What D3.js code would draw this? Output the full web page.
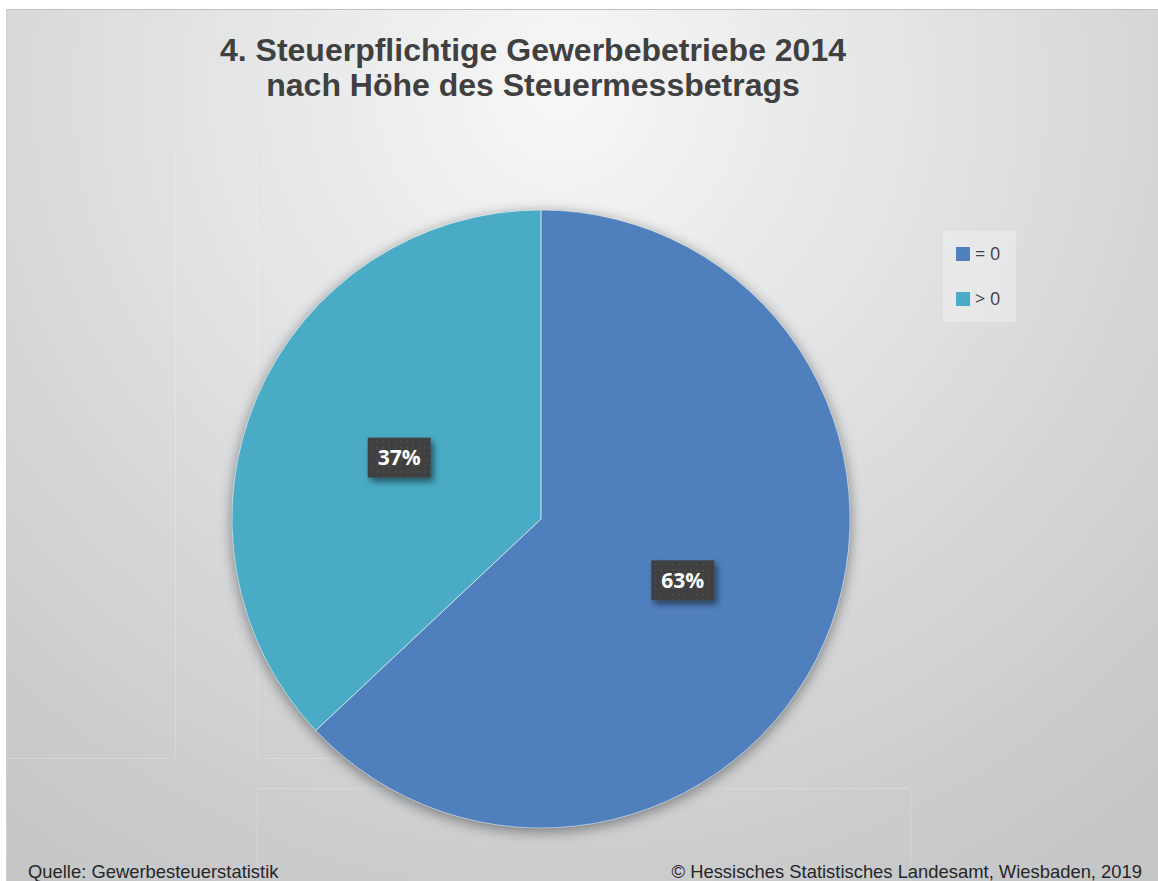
<!DOCTYPE html>
<html><head><meta charset="utf-8">
<script src="https://cdn.jsdelivr.net/npm/d3@7"></script>
<style>
html,body{margin:0;padding:0;background:#fff;}
svg{display:block;}
</style></head>
<body>
<svg id="chart" width="1158" height="881"></svg>
<script>
const categories = ["= 0", "> 0"];
const values = [63, 37];
const colors = ["#4f80bd", "#4aabc5"];
const titleLines = ["4. Steuerpflichtige Gewerbebetriebe 2014", "nach Höhe des Steuermessbetrags"];
const sourceText = "Quelle: Gewerbesteuerstatistik";
const copyrightText = "© Hessisches Statistisches Landesamt, Wiesbaden, 2019";

const W = 1158, H = 881;
const svg = d3.select("#chart");
const defs = svg.append("defs");

// background gradient
const rg = defs.append("radialGradient").attr("id", "bg")
  .attr("gradientUnits", "userSpaceOnUse")
  .attr("cx", 560).attr("cy", 90).attr("r", 950);
rg.append("stop").attr("offset", "0").attr("stop-color", "#f7f7f7");
rg.append("stop").attr("offset", "0.35").attr("stop-color", "#e4e5e6");
rg.append("stop").attr("offset", "0.85").attr("stop-color", "#cacbcd");
rg.append("stop").attr("offset", "1").attr("stop-color", "#c5c6c8");

// pie shadow
const sh = defs.append("filter").attr("id", "pieShadow")
  .attr("x", "-20%").attr("y", "-20%").attr("width", "140%").attr("height", "140%");
sh.append("feGaussianBlur").attr("in", "SourceAlpha").attr("stdDeviation", 7).attr("result", "b");
sh.append("feOffset").attr("in", "b").attr("dx", 0).attr("dy", 3).attr("result", "o");
sh.append("feComponentTransfer").attr("in", "o").attr("result", "s")
  .append("feFuncA").attr("type", "linear").attr("slope", 0.45);
const m1 = sh.append("feMerge");
m1.append("feMergeNode").attr("in", "s");
m1.append("feMergeNode").attr("in", "SourceGraphic");

// label shadow
const ls = defs.append("filter").attr("id", "lblShadow")
  .attr("x", "-30%").attr("y", "-30%").attr("width", "170%").attr("height", "180%");
ls.append("feGaussianBlur").attr("in", "SourceAlpha").attr("stdDeviation", 3).attr("result", "b");
ls.append("feOffset").attr("in", "b").attr("dx", 3).attr("dy", 4).attr("result", "o");
ls.append("feComponentTransfer").attr("in", "o").attr("result", "s")
  .append("feFuncA").attr("type", "linear").attr("slope", 0.5);
const m2 = ls.append("feMerge");
m2.append("feMergeNode").attr("in", "s");
m2.append("feMergeNode").attr("in", "SourceGraphic");

// dot pattern for labels
const pat = defs.append("pattern").attr("id", "dots")
  .attr("patternUnits", "userSpaceOnUse").attr("width", 6).attr("height", 6);
pat.append("rect").attr("width", 6).attr("height", 6).attr("fill", "#3f3f3f");
pat.append("rect").attr("x", 1).attr("y", 1).attr("width", 2).attr("height", 2).attr("fill", "#4c4c4c");

// page
svg.append("rect").attr("x", 0).attr("y", 0).attr("width", W).attr("height", H).attr("fill", "#fff");
svg.append("rect").attr("x", 6).attr("y", 9).attr("width", W - 6).attr("height", H - 9).attr("fill", "url(#bg)");
svg.append("line").attr("x1", 6).attr("x2", W).attr("y1", 9.5).attr("y2", 9.5).attr("stroke", "#bfbfbf").attr("stroke-width", 1);
svg.append("line").attr("x1", 6.5).attr("x2", 6.5).attr("y1", 9).attr("y2", H).attr("stroke", "#d0d0d0").attr("stroke-width", 1);

// faint background pattern lines
const faint = svg.append("g").attr("stroke", "#ffffff").attr("stroke-opacity", 0.22).attr("stroke-width", 1).attr("fill", "none");
[[175.5,150,175.5,758],[257.5,150,257.5,758],[8,758.5,175,758.5],[257,758.5,420,758.5],
 [257,788.5,420,788.5],[257.5,788,257.5,881],[910.5,790,910.5,881],[660,788.5,910,788.5]]
 .forEach(l => faint.append("line").attr("x1", l[0]).attr("y1", l[1]).attr("x2", l[2]).attr("y2", l[3]));

// title
const title = svg.append("text").attr("text-anchor", "middle")
  .attr("font-family", "Liberation Sans, Arial, sans-serif").attr("font-weight", "bold")
  .attr("font-size", 32).attr("fill", "#404040");
titleLines.forEach((t, i) => title.append("tspan").attr("x", 533).attr("y", 61 + i * 35).text(t));

// pie
const cx = 541, cy = 519, R = 309;
const pie = d3.pie().sort(null).value(d => d)(values);
const arc = d3.arc().innerRadius(0).outerRadius(R);
const g = svg.append("g").attr("transform", `translate(${cx},${cy})`);
g.append("g").attr("filter", "url(#pieShadow)")
  .selectAll("path").data(pie).join("path")
  .attr("d", arc).attr("fill", (d, i) => colors[i]);
g.selectAll("path.sep").data(pie).join("path").attr("class", "sep")
  .attr("d", arc).attr("fill", "none").attr("stroke", "#ffffff").attr("stroke-opacity", 0.45).attr("stroke-width", 1);

// labels
const labelArc = d3.arc().innerRadius(R * 0.5).outerRadius(R * 0.5);
const lg = g.selectAll("g.lbl").data(pie).join("g").attr("class", "lbl")
  .attr("transform", d => { const c = labelArc.centroid(d); return `translate(${c[0]},${c[1]})`; });
lg.append("rect").attr("x", -31.5).attr("y", -20).attr("width", 63).attr("height", 40)
  .attr("fill", "url(#dots)").attr("filter", "url(#lblShadow)");
lg.append("text").attr("text-anchor", "middle").attr("dy", "0.36em")
  .attr("font-family", "Open Sans, Noto Sans, sans-serif").attr("font-weight", "bold")
  .attr("font-size", 21).attr("fill", "#ffffff")
  .text(d => Math.round(d.value / d3.sum(values) * 100) + "%");

// legend
const leg = svg.append("g");
leg.append("rect").attr("x", 943).attr("y", 231).attr("width", 73).attr("height", 91)
  .attr("fill", "#ffffff").attr("fill-opacity", 0.3);
const li = leg.selectAll("g.li").data(categories).join("g").attr("class", "li")
  .attr("transform", (d, i) => `translate(956,${247 + i * 45})`);
li.append("rect").attr("width", 14).attr("height", 14).attr("fill", (d, i) => colors[i]);
li.append("text").attr("x", 19).attr("y", 7).attr("dy", "0.36em")
  .attr("font-family", "Open Sans, Noto Sans, sans-serif").attr("font-size", 18).attr("fill", "#404040")
  .text(d => d);

// footer
svg.append("text").attr("x", 28).attr("y", 878)
  .attr("font-family", "Liberation Sans, Arial, sans-serif").attr("font-size", 18.4).attr("fill", "#262626")
  .text(sourceText);
svg.append("text").attr("x", 1142).attr("y", 878).attr("text-anchor", "end")
  .attr("font-family", "Liberation Sans, Arial, sans-serif").attr("font-size", 18.4).attr("fill", "#262626")
  .text(copyrightText);
</script>
</body></html>
